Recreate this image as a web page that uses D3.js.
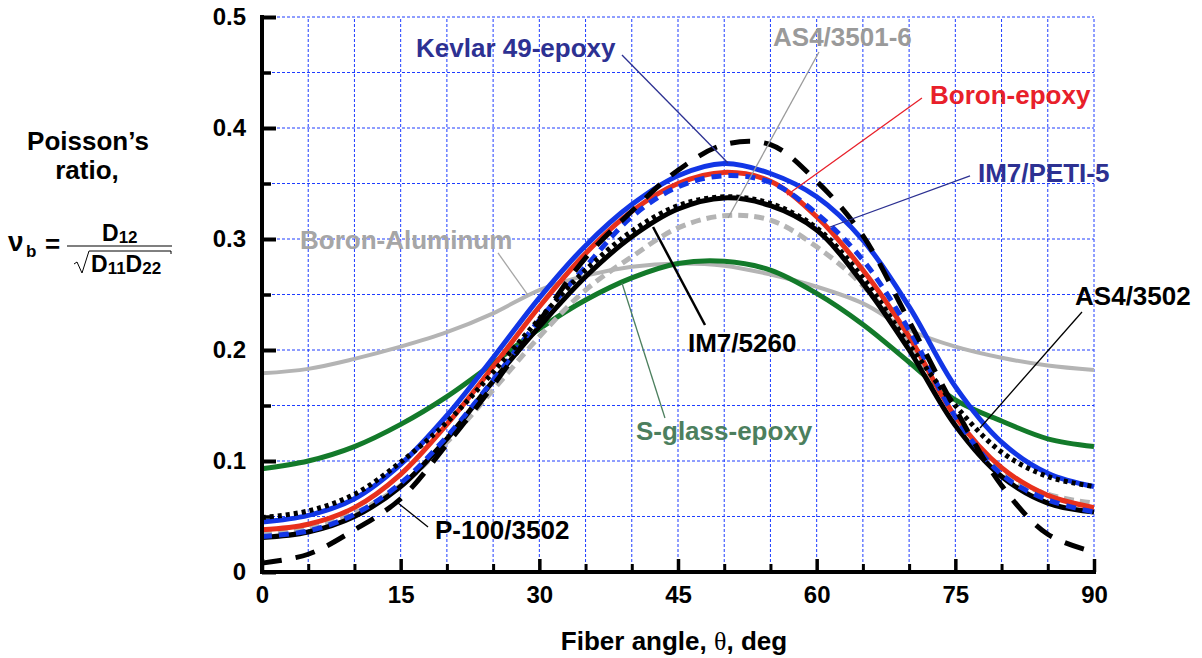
<!DOCTYPE html>
<html>
<head>
<meta charset="utf-8">
<script src="https://cdn.jsdelivr.net/npm/d3@7"></script>
<style>
  html, body { margin: 0; padding: 0; background: #fff; }
  svg { display: block; font-family: "Liberation Sans", Arial, Helvetica, sans-serif; font-weight: bold; }
</style>
</head>
<body>
<svg id="chart" width="1202" height="658"></svg>
<script>
// ---------- data ----------
const angles = [0, 5, 10, 15, 20, 25, 30, 35, 40, 45, 50, 55, 60, 65, 70, 75, 80, 85, 90];
const xTickValues = [0, 15, 30, 45, 60, 75, 90];
const xTickLabels = ["0", "15", "30", "45", "60", "75", "90"];
const yTickValues = [0, 0.1, 0.2, 0.3, 0.4, 0.5];
const yTickLabels = ["0", "0.1", "0.2", "0.3", "0.4", "0.5"];

const boronAluminum = [0.179, 0.183, 0.192, 0.203, 0.216, 0.233, 0.254, 0.267, 0.275, 0.278, 0.276, 0.268, 0.257, 0.242, 0.218, 0.203, 0.193, 0.186, 0.182];
const sGlassEpoxy   = [0.093, 0.100, 0.113, 0.133, 0.158, 0.188, 0.219, 0.245, 0.265, 0.278, 0.280, 0.272, 0.251, 0.223, 0.189, 0.155, 0.136, 0.120, 0.113];
const as4_3501_6    = [0.035, 0.040, 0.053, 0.078, 0.117, 0.164, 0.212, 0.254, 0.284, 0.310, 0.321, 0.317, 0.293, 0.258, 0.207, 0.140, 0.090, 0.070, 0.062];
const im7_5260      = [0.031, 0.036, 0.050, 0.077, 0.120, 0.172, 0.221, 0.266, 0.302, 0.327, 0.337, 0.330, 0.308, 0.260, 0.200, 0.132, 0.086, 0.062, 0.054];
const boronEpoxy    = [0.038, 0.043, 0.058, 0.088, 0.133, 0.185, 0.239, 0.287, 0.325, 0.350, 0.360, 0.352, 0.320, 0.272, 0.212, 0.140, 0.094, 0.069, 0.058];
const kevlar49Epoxy = [0.045, 0.051, 0.066, 0.097, 0.141, 0.193, 0.247, 0.294, 0.331, 0.357, 0.368, 0.359, 0.338, 0.299, 0.239, 0.167, 0.117, 0.089, 0.077];
const im7_peti5     = [0.032, 0.037, 0.052, 0.080, 0.122, 0.173, 0.227, 0.275, 0.320, 0.347, 0.357, 0.351, 0.323, 0.281, 0.218, 0.140, 0.088, 0.065, 0.054];
const as4_3502      = [0.049, 0.055, 0.070, 0.099, 0.135, 0.180, 0.228, 0.272, 0.307, 0.330, 0.338, 0.332, 0.310, 0.265, 0.205, 0.150, 0.108, 0.086, 0.077];
const p100_3502     = [0.008, 0.016, 0.038, 0.066, 0.115, 0.168, 0.226, 0.283, 0.325, 0.362, 0.385, 0.385, 0.352, 0.303, 0.226, 0.147, 0.078, 0.034, 0.018];

// series: name, values, style (draw order)
const series = [
  { name: "Boron-Aluminum", values: boronAluminum, color: "#b4b4b4", width: 4, dash: null },
  { name: "S-glass-epoxy",  values: sGlassEpoxy,   color: "#137a2a", width: 5, dash: null },
  { name: "AS4/3501-6",     values: as4_3501_6,    color: "#b4b4b4", width: 5, dash: "10,6" },
  { name: "IM7/5260",       values: im7_5260,      color: "#000000", width: 5, dash: null },
  { name: "Boron-epoxy",    values: boronEpoxy,    color: "#e8301c", width: 5, dash: null },
  { name: "Kevlar 49-epoxy",values: kevlar49Epoxy, color: "#1236e6", width: 5, dash: null },
  { name: "IM7/PETI-5",     values: im7_peti5,     color: "#1236e6", width: 5, dash: "10,7" },
  { name: "AS4/3502",       values: as4_3502,      color: "#000000", width: 5, dash: "4,4" },
  { name: "P-100/3502",     values: p100_3502,     color: "#000000", width: 5, dash: "20,14" }
];

// annotation labels (data units): label left/center, pointer from -> to
const annotations = [
  { text: "Kevlar 49-epoxy", color: "#2d3192", lx: 16.66, ly: 0.472, x1: 38.94, y1: 0.4658, x2: 50.41, y2: 0.3685, lw: 1.3 },
  { text: "AS4/3501-6",      color: "#9a9a9a", lx: 55.28, ly: 0.482, x1: 60.25, y1: 0.4685, x2: 50.41, y2: 0.3189, lw: 1.3 },
  { text: "Boron-epoxy",     color: "#e8202a", lx: 72.26, ly: 0.4297, x1: 71.39, y1: 0.427, x2: 56.79, y2: 0.3396, lw: 1.3 },
  { text: "IM7/PETI-5",      color: "#2d3192", lx: 77.45, ly: 0.3595, x1: 76.59, y1: 0.3568, x2: 61.44, y2: 0.3108, lw: 1.3 },
  { text: "Boron-Aluminum",  color: "#a6a6a6", lx: 4.11,  ly: 0.2991, x1: 25.53, y1: 0.2874, x2: 28.77, y2: 0.2495, lw: 1.3 },
  { text: "IM7/5260",        color: "#000000", lx: 46.08, ly: 0.2063, x1: 47.92, y1: 0.2225, x2: 42.3,  y2: 0.3108, lw: 2.5 },
  { text: "AS4/3502",        color: "#000000", lx: 87.95, ly: 0.2486, x1: 88.7,  y1: 0.2342, x2: 77.67, y2: 0.1297, lw: 1.3 },
  { text: "S-glass-epoxy",   color: "#4c7f5e", lx: 40.46, ly: 0.127,  x1: 43.59, y1: 0.1387, x2: 38.94, y2: 0.2604, lw: 1.3 },
  { text: "P-100/3502",      color: "#000000", lx: 18.71, ly: 0.0378, x1: 17.96, y1: 0.0405, x2: 14.71, y2: 0.0622, lw: 1.3 }
];

// ---------- chart ----------
const svg = d3.select("#chart");
const plotLeft = 262, plotRight = 1094, plotTop = 17, plotBottom = 572;
const x = d3.scaleLinear().domain([0, 90]).range([plotLeft, plotRight]);
const y = d3.scaleLinear().domain([0, 0.5]).range([plotBottom, plotTop]);

// grid
const grid = svg.append("g");
const vGrid = d3.range(5, 91, 5);
const hGrid = d3.range(1, 11).map(i => i * 0.05);
grid.selectAll("line.v").data(vGrid).join("line")
  .attr("x1", d => x(d)).attr("x2", d => x(d))
  .attr("y1", y(0)).attr("y2", y(0.5))
  .attr("stroke", "#1f3dff").attr("stroke-width", 1).attr("stroke-dasharray", "3,2");
grid.selectAll("line.h").data(hGrid).join("line")
  .attr("x1", x(0)).attr("x2", x(90))
  .attr("y1", d => y(d)).attr("y2", d => y(d))
  .attr("stroke", "#1f3dff").attr("stroke-width", 1).attr("stroke-dasharray", "3,2");

// curves
const line = d3.line()
  .x((d, i) => x(angles[i]))
  .y(d => y(d))
  .curve(d3.curveCatmullRom.alpha(0.5));
const curves = svg.append("g");
series.forEach(s => {
  const p = curves.append("path")
    .attr("d", line(s.values))
    .attr("fill", "none")
    .attr("stroke", s.color)
    .attr("stroke-width", s.width)
    .attr("stroke-linejoin", "round");
  if (s.dash) p.attr("stroke-dasharray", s.dash);
});

// axes
const yAxis = d3.axisLeft(y).tickValues(yTickValues)
  .tickFormat((d, i) => yTickLabels[i]).tickSize(-14).tickPadding(16);
const yMinor = d3.axisLeft(y).tickValues(d3.range(0, 5).map(i => 0.05 + i * 0.1))
  .tickFormat("").tickSize(-9);
const xAxis = d3.axisBottom(x).tickValues(xTickValues)
  .tickFormat((d, i) => xTickLabels[i]).tickSize(-13).tickPadding(14);
const xMinor = d3.axisBottom(x).tickValues(d3.range(5, 90, 5).filter(d => d % 15 !== 0))
  .tickFormat("").tickSize(-8);

function styleAxis(g, w) {
  g.select(".domain").remove();
  g.selectAll(".tick line").attr("stroke", "#000").attr("stroke-width", w);
  g.selectAll(".tick text").attr("fill", "#000")
    .style("font-family", "'Liberation Sans', Arial, sans-serif")
    .style("font-weight", "bold").style("font-size", "24px");
}
svg.append("g").attr("transform", `translate(${plotLeft},0)`).call(yAxis).call(g => styleAxis(g, 4));
svg.append("g").attr("transform", `translate(${plotLeft},0)`).call(yMinor).call(g => styleAxis(g, 3.5));
svg.append("g").attr("transform", `translate(0,${plotBottom})`).call(xAxis).call(g => styleAxis(g, 3.5));
svg.append("g").attr("transform", `translate(0,${plotBottom})`).call(xMinor).call(g => styleAxis(g, 3));

// axis lines (thick)
svg.append("line").attr("x1", x(0)).attr("x2", x(0)).attr("y1", y(0.5) - 2).attr("y2", y(0) + 2)
  .attr("stroke", "#000").attr("stroke-width", 4);
svg.append("line").attr("x1", x(0) - 2).attr("x2", x(90) + 2).attr("y1", y(0)).attr("y2", y(0))
  .attr("stroke", "#000").attr("stroke-width", 4);

// annotations
const ann = svg.append("g");
annotations.forEach(a => {
  ann.append("line")
    .attr("x1", x(a.x1)).attr("y1", y(a.y1))
    .attr("x2", x(a.x2)).attr("y2", y(a.y2))
    .attr("stroke", a.color).attr("stroke-width", a.lw);
  ann.append("text")
    .attr("x", x(a.lx)).attr("y", y(a.ly)).attr("dy", "0.35em")
    .attr("fill", a.color).style("font-size", "26px")
    .text(a.text);
});

// x axis title
const xt = svg.append("text").attr("x", 674).attr("y", 650).attr("text-anchor", "middle")
  .style("font-size", "26px").attr("fill", "#000");
xt.append("tspan").text("Fiber angle, ");
xt.append("tspan").style("font-family", "'Liberation Serif', 'Times New Roman', serif")
  .style("font-weight", "normal").text("θ");
xt.append("tspan").text(", deg");

// y axis title
svg.append("text").attr("x", 88).attr("y", 150).attr("text-anchor", "middle")
  .style("font-size", "26px").text("Poisson’s");
svg.append("text").attr("x", 87).attr("y", 179).attr("text-anchor", "middle")
  .style("font-size", "26px").text("ratio,");

// formula
const f = svg.append("g");
f.append("text").attr("x", 8).attr("y", 251).style("font-size", "28px").text("ν");
f.append("text").attr("x", 26).attr("y", 257).style("font-size", "17px").text("b");
f.append("text").attr("x", 45).attr("y", 253).style("font-size", "26px").text("=");
f.append("line").attr("x1", 67).attr("x2", 172).attr("y1", 246).attr("y2", 246)
  .attr("stroke", "#000").attr("stroke-width", 1.2);
const num = f.append("text").attr("x", 102).attr("y", 241).style("font-size", "23px");
num.append("tspan").text("D");
num.append("tspan").attr("dy", 2).style("font-size", "17px").text("12");
// radical
f.append("path").attr("d", "M74,264 L77,262 L82,273 L89,251 L171,251 L171,254")
  .attr("fill", "none").attr("stroke", "#000").attr("stroke-width", 1);
const den = f.append("text").attr("x", 91).attr("y", 272).style("font-size", "23px");
den.append("tspan").text("D");
den.append("tspan").attr("dy", 2).style("font-size", "17px").text("11");
den.append("tspan").attr("dy", -2).text("D");
den.append("tspan").attr("dy", 2).style("font-size", "17px").text("22");
</script>
</body>
</html>
